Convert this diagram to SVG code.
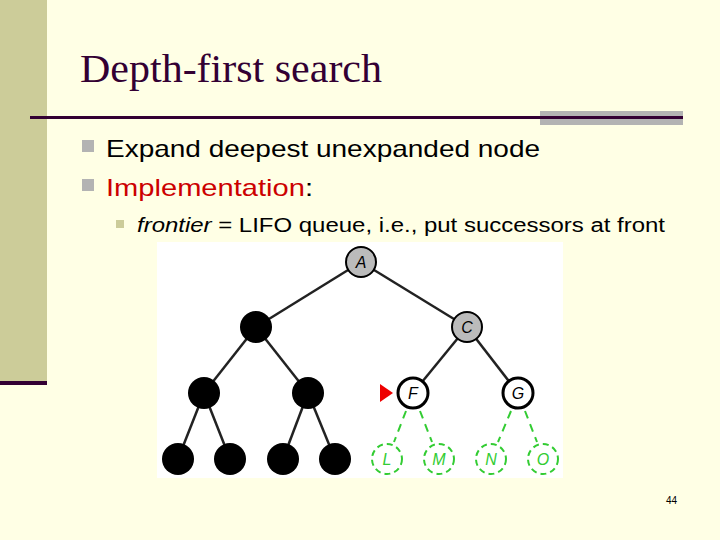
<svg xmlns="http://www.w3.org/2000/svg" width="720" height="540" viewBox="0 0 720 540">
<style>
.t{font-family:"Liberation Sans",Arial,sans-serif}
.blk{fill:#000}
.exp{fill:#fff;stroke:#000;stroke-width:3}
.gry{fill:#bbb;stroke:#000;stroke-width:2}
.grn{fill:#fff;stroke:#3c3;stroke-width:2;stroke-dasharray:6 4}
.lb{font-family:"Liberation Sans",Arial,sans-serif;font-style:italic;font-size:16px;text-anchor:middle}
.e{stroke:#222;stroke-width:2.5}
.g{stroke:#3c3;stroke-width:2;stroke-dasharray:8 6}
</style>
<rect width="720" height="540" fill="#ffffe5"/>
<rect x="0" y="0" width="47" height="383" fill="#cccc99"/>
<rect x="0" y="381" width="47" height="4" fill="#330033"/>
<text x="80" y="82" font-family="Liberation Serif,serif" font-size="40" fill="#330033" textLength="302" lengthAdjust="spacingAndGlyphs">Depth-first search</text>
<rect x="540" y="111" width="143" height="14" fill="#b3b3b3"/>
<rect x="30" y="116" width="653" height="3" fill="#330033"/>
<rect x="82" y="140" width="12" height="12" fill="#b3b3b3"/>
<text class="t" x="106" y="157" font-size="24" textLength="434" lengthAdjust="spacingAndGlyphs">Expand deepest unexpanded node</text>
<rect x="82" y="179" width="12" height="12" fill="#b3b3b3"/>
<text class="t" x="106" y="196" font-size="24" textLength="207" lengthAdjust="spacingAndGlyphs"><tspan fill="#cc0000">Implementation</tspan>:</text>
<rect x="116" y="220" width="8" height="8" fill="#cccc99"/>
<text class="t" x="137" y="232" font-size="20" textLength="528" lengthAdjust="spacingAndGlyphs"><tspan font-style="italic">frontier</tspan> = LIFO queue, i.e., put successors at front</text>
<rect x="157" y="242" width="406" height="236" fill="#fff"/>
<g id="connectors">
<line class="e" x1="361" y1="262" x2="256" y2="327"/>
<line class="e" x1="361" y1="262" x2="467" y2="327"/>
<line class="e" x1="256" y1="327" x2="204" y2="393"/>
<line class="e" x1="256" y1="327" x2="308" y2="393"/>
<line class="e" x1="467" y1="327" x2="413" y2="393"/>
<line class="e" x1="467" y1="327" x2="518" y2="393"/>
<line class="e" x1="204" y1="393" x2="178" y2="459"/>
<line class="e" x1="204" y1="393" x2="230" y2="459"/>
<line class="e" x1="308" y1="393" x2="283" y2="459"/>
<line class="e" x1="308" y1="393" x2="335" y2="459"/>
<line class="g" x1="406" y1="411" x2="394" y2="442"/>
<line class="g" x1="420" y1="411" x2="432" y2="442"/>
<line class="g" x1="511" y1="411" x2="498" y2="442"/>
<line class="g" x1="525" y1="411" x2="537" y2="442"/>
<polygon points="380,384 393,393 380,402" fill="#e00"/>
</g>
<g id="A"><circle class="gry" cx="361" cy="262" r="15"/><text class="lb" x="361" y="268">A</text></g>
<g id="B"><circle class="blk" cx="256" cy="327" r="16"/></g>
<g id="C"><circle class="gry" cx="467" cy="327" r="15"/><text class="lb" x="467" y="333">C</text></g>
<g id="D"><circle class="blk" cx="204" cy="393" r="16"/></g>
<g id="E"><circle class="blk" cx="308" cy="393" r="16"/></g>
<g id="F"><circle class="exp" cx="413" cy="393" r="15"/><text class="lb" x="413" y="399">F</text></g>
<g id="G"><circle class="exp" cx="518" cy="393" r="15"/><text class="lb" x="518" y="399">G</text></g>
<g id="H"><circle class="blk" cx="178" cy="459" r="16"/></g>
<g id="I"><circle class="blk" cx="230" cy="459" r="16"/></g>
<g id="J"><circle class="blk" cx="283" cy="459" r="16"/></g>
<g id="K"><circle class="blk" cx="335" cy="459" r="16"/></g>
<g id="L"><circle class="grn" cx="387" cy="459" r="15"/><text class="lb" x="387" y="465" fill="#3c3">L</text></g>
<g id="M"><circle class="grn" cx="439" cy="459" r="15"/><text class="lb" x="439" y="465" fill="#3c3">M</text></g>
<g id="N"><circle class="grn" cx="491" cy="459" r="15"/><text class="lb" x="491" y="465" fill="#3c3">N</text></g>
<g id="O"><circle class="grn" cx="543" cy="459" r="15"/><text class="lb" x="543" y="465" fill="#3c3">O</text></g>
<text class="t" x="677" y="504" font-size="10" text-anchor="end">44</text>
</svg>
